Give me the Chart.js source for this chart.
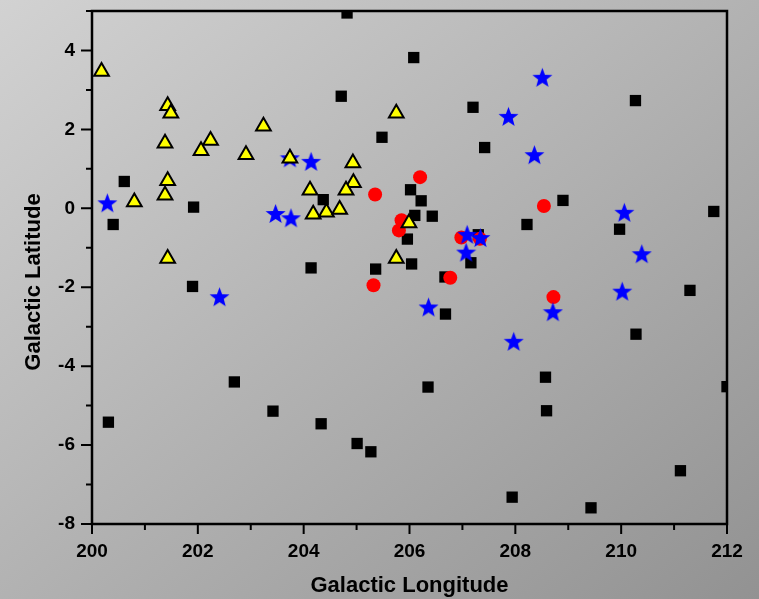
<!doctype html>
<html>

<head>
    <script src="https://cdn.jsdelivr.net/npm/chart.js"></script>
    <style type="text/css">
        body {
            margin: 0;
            width: 759px;
            height: 599px;
            overflow: hidden;
            background: linear-gradient(to bottom right, #d2d2d2, #929292);
        }

        #wrap {
            position: relative;
            width: 759px;
            height: 599px;
        }
    </style>
</head>

<body>
    <div id="wrap">
        <canvas id="myChart" width="759" height="599"></canvas>
    </div>

    <script>
        // longitude / latitude, one pair of arrays per marker type
        const squareLon = [204.82, 206.08, 200.61, 200.40, 201.92, 204.71, 205.48, 207.20, 207.42, 210.27,
            208.90, 208.22, 209.97, 211.75, 211.30, 210.28, 208.57, 208.59, 212.0, 211.12,
            209.43, 207.94, 200.31, 202.69, 201.90, 204.14, 205.36, 206.04, 207.16, 206.67,
            206.68, 206.35, 203.42, 204.33, 205.01, 205.27, 204.37, 206.02, 206.22, 206.10,
            206.43, 205.96, 207.30];
        const squareLat = [4.95, 3.82, 0.68, -0.41, 0.03, 2.84, 1.80, 2.56, 1.54, 2.73,
            0.20, -0.41, -0.53, -0.08, -2.08, -3.19, -4.28, -5.13, -4.52, -6.65,
            -7.59, -7.32, -5.42, -4.40, -1.98, -1.51, -1.54, -1.41, -1.38, -1.74,
            -2.68, -4.53, -5.14, -5.46, -5.96, -6.17, 0.22, 0.47, 0.19, -0.18,
            -0.20, -0.78, -0.67];

        const circleLon = [205.35, 206.20, 205.85, 205.80, 205.32, 206.98, 207.33, 206.77, 208.54, 208.72];
        const circleLat = [0.35, 0.79, -0.30, -0.56, -1.95, -0.74, -0.77, -1.76, 0.06, -2.25];

        const starLon = [200.29, 202.41, 203.47, 203.76, 203.74, 204.14, 206.36, 207.09, 207.34, 207.07,
            207.97, 207.87, 208.36, 208.51, 208.71, 210.06, 210.39, 210.02];
        const starLat = [0.14, -2.24, -0.13, -0.24, 1.28, 1.19, -2.50, -0.66, -0.74, -1.11,
            -3.37, 2.33, 1.36, 3.32, -2.62, -0.10, -1.15, -2.10];

        const triLon = [200.18, 201.43, 201.49, 201.38, 202.24, 202.06, 203.24, 202.91, 201.43, 201.38,
            200.80, 201.43, 203.74, 204.93, 204.94, 204.80, 204.12, 204.18, 204.43, 204.68,
            205.99, 205.75, 205.75];
        const triLat = [3.47, 2.60, 2.41, 1.65, 1.72, 1.46, 2.08, 1.36, 0.70, 0.33,
            0.16, -1.27, 1.27, 1.15, 0.65, 0.46, 0.46, -0.15, -0.10, -0.03,
            -0.37, -1.27, 2.41];

        const lonRange = [200, 212];
        const latRange = [-8, 5];

        function toPoints(xs, ys) {
            return xs.map((v, i) => ({ x: v, y: ys[i] }));
        }

        // five-pointed star, chart.js only has the asterisk kind
        function makeStar(size, color) {
            const c = document.createElement('canvas');
            c.width = c.height = size;
            const g = c.getContext('2d');
            const R = size / 2, r = R * 0.42;
            g.beginPath();
            for (let i = 0; i < 10; i++) {
                const rad = i % 2 ? r : R;
                const ang = -Math.PI / 2 + i * Math.PI / 5;
                g.lineTo(R + rad * Math.cos(ang), R + 1 + rad * Math.sin(ang));
            }
            g.closePath();
            g.fillStyle = color;
            g.fill();
            return c;
        }

        const FONT = '"Liberation Sans", Arial, sans-serif';

        // box round the plot, outward major/minor ticks, y title
        const axisFrame = {
            id: 'axisFrame',
            afterDraw(chart) {
                const { ctx, chartArea: a, scales: { x, y } } = chart;
                ctx.save();
                ctx.strokeStyle = '#000';
                ctx.lineWidth = 2.5;
                ctx.strokeRect(a.left, a.top, a.right - a.left, a.bottom - a.top);
                ctx.lineWidth = 2;
                ctx.beginPath();
                x.ticks.forEach(t => {
                    const px = x.getPixelForValue(t.value);
                    const len = t.value % 2 === 0 ? 10 : 6;
                    ctx.moveTo(px, a.bottom);
                    ctx.lineTo(px, a.bottom + len);
                });
                y.ticks.forEach(t => {
                    const py = y.getPixelForValue(t.value);
                    const len = t.value % 2 === 0 ? 11 : 6;
                    ctx.moveTo(a.left, py);
                    ctx.lineTo(a.left - len, py);
                });
                ctx.stroke();

                ctx.translate(34, 282);
                ctx.rotate(-Math.PI / 2);
                ctx.font = 'bold 22px ' + FONT;
                ctx.textAlign = 'center';
                ctx.textBaseline = 'middle';
                ctx.fillStyle = '#000';
                ctx.fillText('Galactic Latitude', 0, 0);
                ctx.restore();
            }
        };

        const data = {
            datasets: [{
                label: 'triangles',
                data: toPoints(triLon, triLat),
                pointStyle: 'triangle',
                pointRadius: 8.5,
                backgroundColor: '#ffff00',
                borderColor: '#000',
                borderWidth: 2,
                clip: 0
            }, {
                label: 'stars',
                data: toPoints(starLon, starLat),
                pointStyle: makeStar(21, '#0000ff'),
                pointRadius: 10,
                clip: 0
            }, {
                label: 'circles',
                data: toPoints(circleLon, circleLat),
                pointStyle: 'circle',
                pointRadius: 7,
                backgroundColor: '#ff0000',
                borderWidth: 0,
                clip: 0
            }, {
                label: 'squares',
                data: toPoints(squareLon, squareLat),
                pointStyle: 'rect',
                pointRadius: 8,
                backgroundColor: '#000',
                borderWidth: 0,
                clip: 0
            }]
        };

        const config = {
            type: 'scatter',
            data: data,
            options: {
                responsive: false,
                animation: false,
                devicePixelRatio: 1,
                layout: { padding: { top: 10, right: 32, left: 0, bottom: 0 } },
                plugins: {
                    legend: { display: false },
                    tooltip: { enabled: false }
                },
                scales: {
                    x: {
                        type: 'linear',
                        min: lonRange[0],
                        max: lonRange[1],
                        grid: { display: false, drawTicks: false },
                        border: { display: false },
                        ticks: {
                            stepSize: 1,
                            autoSkip: false,
                            maxRotation: 0,
                            padding: 16,
                            color: '#000',
                            font: { family: FONT, size: 19, weight: 'bold' },
                            callback: v => v % 2 === 0 ? v : ''
                        },
                        title: {
                            display: true,
                            text: 'Galactic Longitude',
                            color: '#000',
                            font: { family: FONT, size: 22, weight: 'bold' },
                            padding: { top: 0, bottom: 0 }
                        },
                        afterFit: s => { s.height = 75; }
                    },
                    y: {
                        type: 'linear',
                        min: latRange[0],
                        max: latRange[1],
                        grid: { display: false, drawTicks: false },
                        border: { display: false },
                        ticks: {
                            stepSize: 1,
                            autoSkip: false,
                            padding: 17,
                            color: '#000',
                            font: { family: FONT, size: 19, weight: 'bold' },
                            callback: v => v % 2 === 0 ? v : ''
                        },
                        afterFit: s => {
                            s.width = 92;
                            s.paddingTop = 0;
                            s.paddingBottom = 0;
                        }
                    }
                }
            },
            plugins: [axisFrame]
        };

        const ctx = document.getElementById('myChart').getContext('2d');
        const myChart = new Chart(ctx, config);
    </script>

</body>

</html>
